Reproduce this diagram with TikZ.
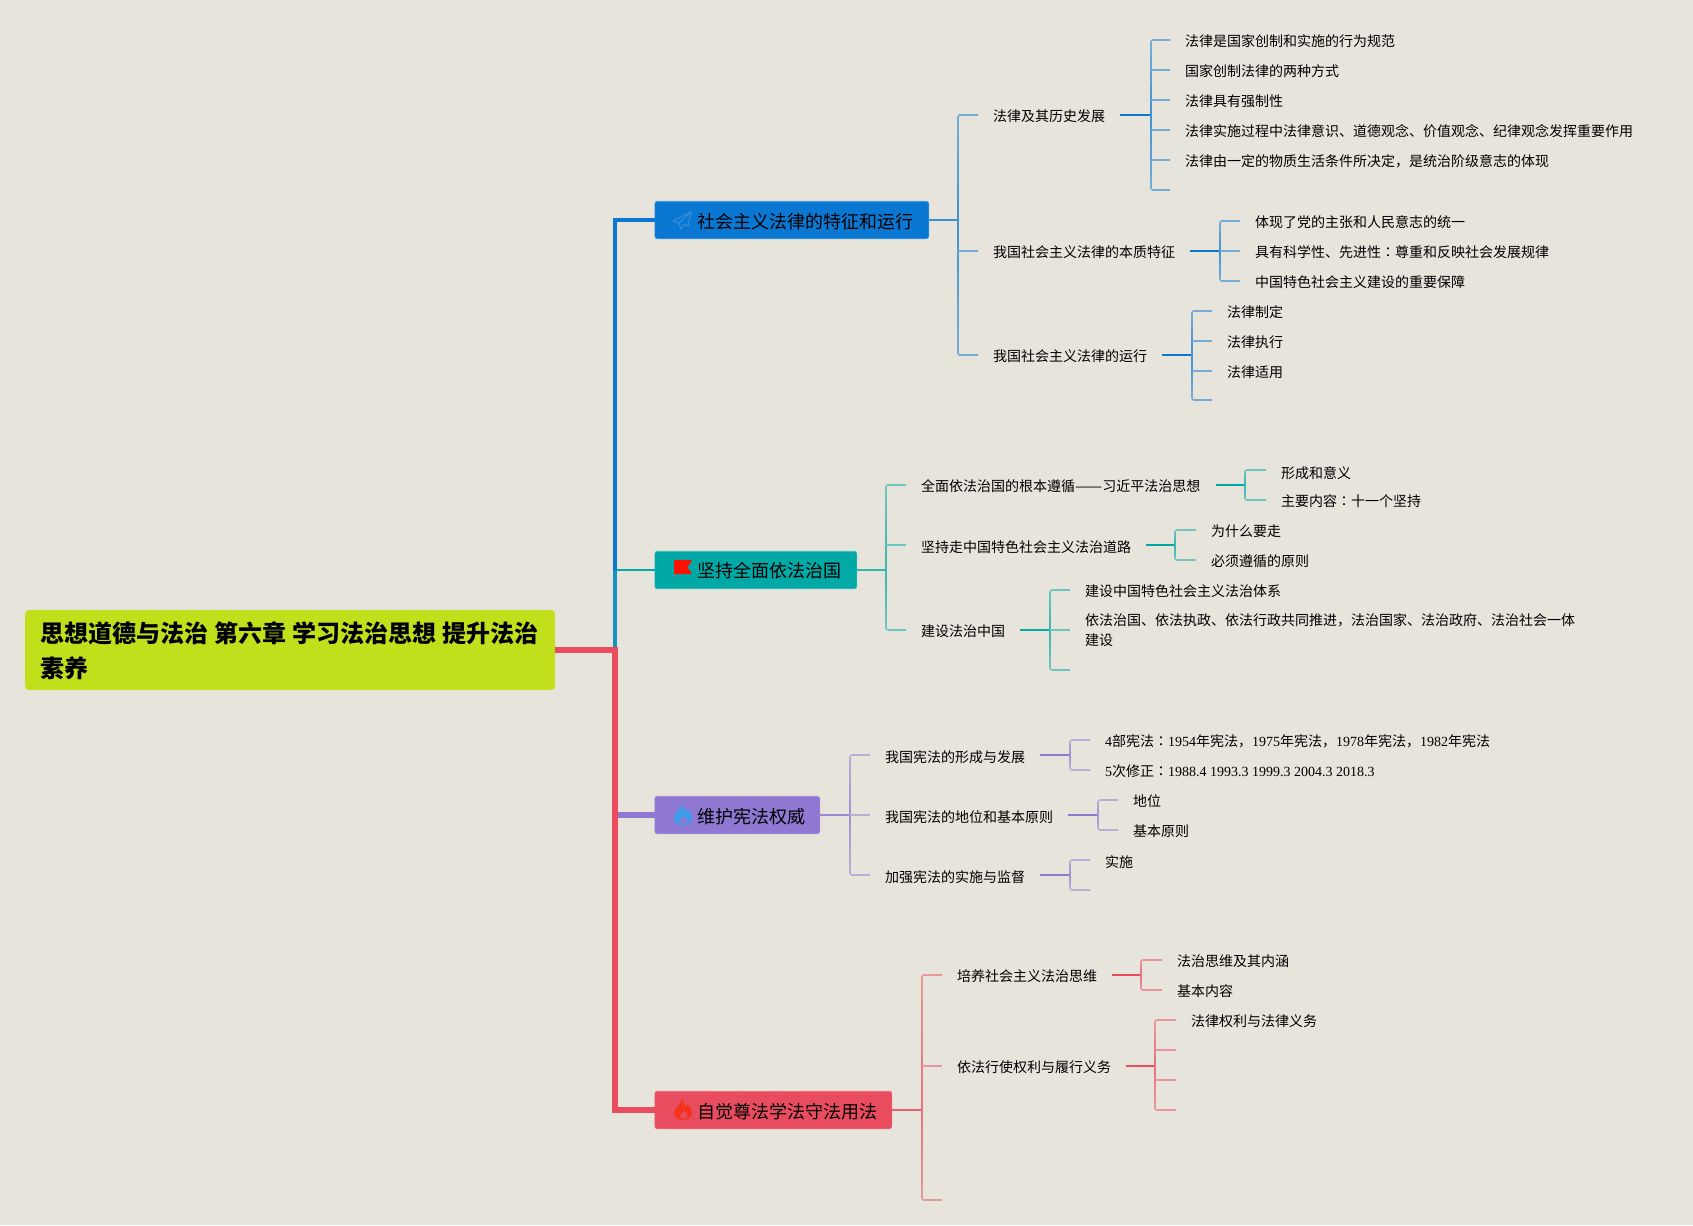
\documentclass[tikz,border=0pt]{standalone}
\usepackage{fontspec}
\usetikzlibrary{calc}
\setmainfont{Liberation Serif}
\newfontfamily\cjk{Noto Sans CJK SC}
\newfontfamily\cjktc{Noto Sans CJK TC}
\definecolor{bgc}{HTML}{E7E4DC}
\definecolor{rootc}{HTML}{C1E01B}
\definecolor{bluec}{HTML}{0A78D2}
\definecolor{tealc}{HTML}{00A8A6}
\definecolor{purpc}{HTML}{8F78D2}
\definecolor{redc}{HTML}{E84C5E}
\definecolor{trunkmix}{HTML}{1592BE}
\newcommand{\dg}[1]{{\rmfamily #1}}
\newcommand{\cln}{{\cjktc ：}}
\tikzset{
 leaf/.style={anchor=west,inner sep=0pt,font=\fontsize{14}{19}\selectfont\cjk,text=black,text height=14.6pt,text depth=2pt},
 low/.style={text height=16.6pt},
 lower/.style={text height=18pt},
 rootbox/.style={anchor=west,inner sep=0pt,fill=rootc,rounded corners=4pt,minimum width=530pt,minimum height=80pt},
 branchbox/.style={anchor=west,inner sep=0pt,rounded corners=2.5pt,minimum height=37.5pt,line width=.6pt},
 btext/.style={anchor=west,inner sep=0pt,font=\fontsize{18}{22}\selectfont\cjk,text=black},
 conn/.style={line width=2pt},
 vert/.style={line width=1.6pt,line cap=butt},
 stubline/.style={line width=1.6pt},
 leadline/.style={line width=2pt},
}
% colour, parent node, spine coordinate
\newcommand{\leadto}[3]{\draw[leadline,#1,shorten <=15pt] (#2.east |- #3) -- (#3);}
% colour, spine coordinate, top child, bottom child
\newcommand{\bracket}[4]{%
 \draw[vert,#1!52!bgc,rounded corners=2pt,shorten <=15pt,shorten >=15pt] (#3.west) -- (#2 |- #3.west) -- (#2 |- #4.west) -- (#4.west);
 \foreach \ff in {.8,.6,.4,.2}
  \draw[vert,#1,opacity=.13] ($(#2)!\ff!(#2 |- #3.west)$) -- ($(#2)!\ff!(#2 |- #4.west)$);}
% colour, spine coordinate, middle child
\newcommand{\stubto}[3]{\draw[stubline,#1!52!bgc,shorten >=15pt] (#2 |- #3.west) -- (#3.west);}
\begin{document}
\begin{tikzpicture}[x=1pt,y=-1pt]
\useasboundingbox (0,0) rectangle (1693,1225);
\fill[bgc] (0,0) rectangle (1693,1225);

\node[rootbox] (root) at (25,650) {};
\node[anchor=north west,inner sep=0pt,font=\fontsize{24}{35}\selectfont\cjk\bfseries,align=left,text=black] (roott) at (40.5,621.5) {思想道德与法治 \hspace{.6pt}第六章 \hspace{.6pt}学习法治思想 \hspace{.6pt}提升法治\\素养};

\node[branchbox,fill=bluec,draw=bluec!75!white,minimum width=274pt] (B1) at (654.5,220) {};
\node[branchbox,fill=tealc,draw=tealc!75!white,minimum width=202pt] (B2) at (654.5,570) {};
\node[branchbox,fill=purpc,draw=purpc!85!white,minimum width=165pt] (B3) at (654.5,815) {};
\node[branchbox,fill=redc,draw=redc!85!white,minimum width=237pt] (B4) at (654.5,1110) {};

% trunk
\coordinate (jn) at (615,650);
\coordinate (jt) at (615,570);
\draw[line width=2.5pt,tealc] (jt) -- (B2.west);
\draw[line width=4pt,trunkmix] (jn) -- (jt);
\draw[line width=4pt,bluec,line join=miter] (jt) -- (B1.west -| jt) -- (B1.west);
\draw[line width=6pt,purpc] (B3.west -| jn) -- (B3.west);
\draw[line width=6pt,redc,line join=miter] (root.east |- jn) -- (jn) -- (jn |- B4.west) -- (B4.west);

% branch labels
\node[btext] (b1) at (697,221.5) {社会主义法律的特征和运行};
\node[btext] (b2) at (697,571) {坚持全面依法治国};
\node[btext] (b3) at (697,816.5) {维护宪法权威};
\node[btext] (b4) at (697,1111.5) {自觉尊法学法守法用法};

% icons
\begin{scope}[shift={(673,212)}]
 \draw[line width=1pt,draw=white!18!bluec,line join=round] (18,0) -- (0,9) -- (6,11) -- (8,17) -- (11,12.5) -- (15,14) -- cycle (18,0) -- (6,11);
\end{scope}
\begin{scope}[shift={(673,559)}]
 \draw[line width=1pt,gray] (1,1) -- (1,21);
 \fill[red!88!orange] (1,1) -- (19,1) -- (14.5,8.5) -- (19,15) -- (1,15) -- cycle;
\end{scope}
\foreach \ox/\oy/\cc in {674/804/3A9BE8,674/1099/F5331A}{
 \definecolor{firec}{HTML}{\cc}
 \begin{scope}[shift={(\ox,\oy)}]
 \fill[firec,even odd rule] (8,0) .. controls (9,4) and (11,6) .. (12,8) .. controls (13,7) and (13.5,6.5) .. (13.5,5) .. controls (16,8) and (18,11) .. (18,14) .. controls (18,18.5) and (14,21) .. (9,21) .. controls (4,21) and (0,18.5) .. (0,14) .. controls (0,9) and (7,6) .. (8,0) -- cycle
 (10,11) .. controls (10,13) and (6,15) .. (6,17) .. controls (6,19) and (8,20) .. (10,20) .. controls (12,20) and (13.5,19) .. (13.5,17) .. controls (13.5,15) and (11,13) .. (10,11) -- cycle;
 \end{scope}
}

% --- blue
\coordinate (bs) at (958,220);
\draw[conn,bluec!78!bgc] (B1.east) -- (bs);
\node[leaf] (n1) at (993,115) {法律及其历史发展};
\node[leaf] (n2) at (993,251) {我国社会主义法律的本质特征};
\node[leaf] (n3) at (993,355) {我国社会主义法律的运行};
\bracket{bluec}{bs}{n1}{n3}
\stubto{bluec}{bs}{n2}

\coordinate (s1) at (1151,115);
\node[leaf] (n11) at (1185,40) {法律是国家创制和实施的行为规范};
\node[leaf] (n12) at (1185,70) {国家创制法律的两种方式};
\node[leaf] (n13) at (1185,100) {法律具有强制性};
\node[leaf] (n14) at (1185,130) {法律实施过程中法律意识、道德观念、价值观念、纪律观念发挥重要作用};
\node[leaf] (n15) at (1185,160) {法律由一定的物质生活条件所决定，是统治阶级意志的体现};
\coordinate (n16) at (1185,190);
\leadto{bluec}{n1}{s1}
\bracket{bluec}{s1}{n11}{n16}
\stubto{bluec}{s1}{n12}\stubto{bluec}{s1}{n13}\stubto{bluec}{s1}{n14}\stubto{bluec}{s1}{n15}

\coordinate (s2) at (1220,251);
\node[leaf] (n21) at (1255,221) {体现了党的主张和人民意志的统一};
\node[leaf] (n22) at (1255,251) {具有科学性、先进性\cln 尊重和反映社会发展规律};
\node[leaf] (n23) at (1255,281) {中国特色社会主义建设的重要保障};
\leadto{bluec}{n2}{s2}
\bracket{bluec}{s2}{n21}{n23}
\stubto{bluec}{s2}{n22}

\coordinate (s3) at (1192,355);
\node[leaf] (n31) at (1227,311) {法律制定};
\node[leaf] (n32) at (1227,341) {法律执行};
\node[leaf] (n33) at (1227,371) {法律适用};
\coordinate (n34) at (1227,400);
\leadto{bluec}{n3}{s3}
\bracket{bluec}{s3}{n31}{n34}
\stubto{bluec}{s3}{n32}\stubto{bluec}{s3}{n33}

% --- teal
\coordinate (ts) at (886,570);
\draw[conn,tealc!78!bgc] (B2.east) -- (ts);
\node[leaf] (t1) at (921,485) {全面依法治国的根本遵循\scalebox{1.155}[1]{——}习近平法治思想};
\node[leaf,low] (t2) at (921,545) {坚持走中国特色社会主义法治道路};
\node[leaf] (t3) at (921,630) {建设法治中国};
\bracket{tealc}{ts}{t1}{t3}
\stubto{tealc}{ts}{t2}

\coordinate (s4) at (1245,485);
\node[leaf,lower] (t11) at (1281,470) {形成和意义};
\node[leaf] (t12) at (1281,500) {主要内容\cln 十一个坚持};
\leadto{tealc}{t1}{s4}
\bracket{tealc}{s4}{t11}{t12}

\coordinate (s5) at (1175,545);
\node[leaf] (t21) at (1211,530) {为什么要走};
\node[leaf] (t22) at (1211,560) {必须遵循的原则};
\leadto{tealc}{t2}{s5}
\bracket{tealc}{s5}{t21}{t22}

\coordinate (s6) at (1050,630);
\node[leaf] (t31) at (1085,590) {建设中国特色社会主义法治体系};
\node[leaf,text height=,text depth=,align=left] (t32) at (1085,630) {依法治国、依法执政、依法行政共同推进，法治国家、法治政府、法治社会一体\\[0.6pt]建设};
\coordinate (t33) at (1085,670);
\leadto{tealc}{t3}{s6}
\bracket{tealc}{s6}{t31}{t33}
\stubto{tealc}{s6}{t32}

% --- purple
\coordinate (ps) at (850,815);
\draw[conn,purpc!85!bgc] (B3.east) -- (ps);
\node[leaf,low] (p1) at (885,755) {我国宪法的形成与发展};
\node[leaf,low] (p2) at (885,815) {我国宪法的地位和基本原则};
\node[leaf,low] (p3) at (885,875) {加强宪法的实施与监督};
\bracket{purpc}{ps}{p1}{p3}
\stubto{purpc}{ps}{p2}

\coordinate (s7) at (1070,755);
\node[leaf] (p11) at (1105,740) {\dg{4}部宪法\cln\dg{1954}年宪法，\dg{1975}年宪法，\dg{1978}年宪法，\dg{1982}年宪法};
\node[leaf] (p12) at (1105,770) {\dg{5}次修正\cln\dg{1988.4 1993.3 1999.3 2004.3 2018.3}};
\leadto{purpc}{p1}{s7}
\bracket{purpc}{s7}{p11}{p12}

\coordinate (s8) at (1098,815);
\node[leaf] (p21) at (1133,800) {地位};
\node[leaf] (p22) at (1133,830) {基本原则};
\leadto{purpc}{p2}{s8}
\bracket{purpc}{s8}{p21}{p22}

\coordinate (s9) at (1070,875);
\node[leaf,low] (p31) at (1105,860) {实施};
\coordinate (p32) at (1105,890);
\leadto{purpc}{p3}{s9}
\bracket{purpc}{s9}{p31}{p32}

% --- red
\coordinate (rs) at (922,1110);
\draw[conn,redc!85!bgc] (B4.east) -- (rs);
\node[leaf] (r1) at (957,975) {培养社会主义法治思维};
\node[leaf] (r2) at (957,1066) {依法行使权利与履行义务};
\coordinate (r3) at (957,1200);
\bracket{redc}{rs}{r1}{r3}
\stubto{redc}{rs}{r2}

\coordinate (s10) at (1141,975);
\node[leaf] (r11) at (1177,960) {法治思维及其内涵};
\node[leaf] (r12) at (1177,990) {基本内容};
\leadto{redc}{r1}{s10}
\bracket{redc}{s10}{r11}{r12}

\coordinate (s11) at (1155,1066);
\node[leaf] (r21) at (1191,1020) {法律权利与法律义务};
\coordinate (r22) at (1191,1050);
\coordinate (r23) at (1191,1080);
\coordinate (r24) at (1191,1110);
\leadto{redc}{r2}{s11}
\bracket{redc}{s11}{r21}{r24}
\stubto{redc}{s11}{r22}\stubto{redc}{s11}{r23}
\end{tikzpicture}
\end{document}
